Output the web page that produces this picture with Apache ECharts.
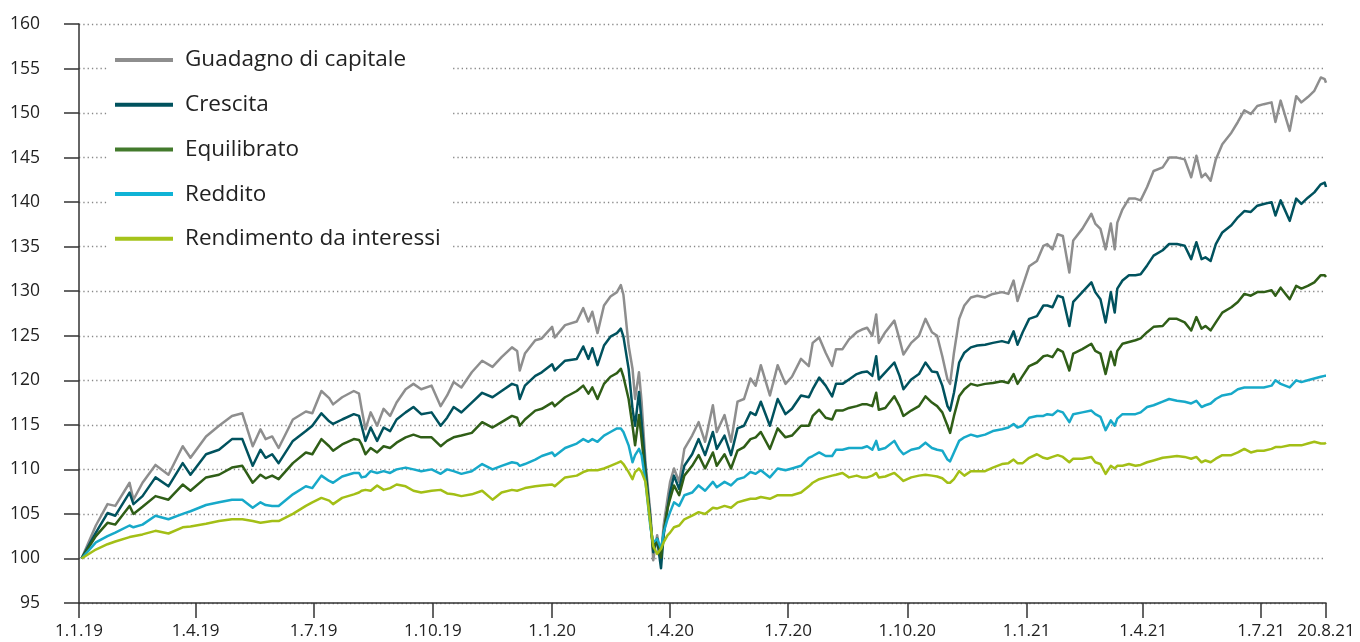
<!DOCTYPE html>
<html>
<head>
<meta charset="utf-8">
<script src="https://cdn.jsdelivr.net/npm/echarts@6/dist/echarts.min.js"></script>
<style>html,body{margin:0;padding:0;background:#fff}#c{width:1360px;height:642px}</style>
</head>
<body>
<div id="c"></div>
<script>
const seriesNames = ['Guadagno di capitale', 'Crescita', 'Equilibrato', 'Reddito', 'Rendimento da interessi'];

const tickDates = ['2019-01-01','2019-04-01','2019-07-01','2019-10-01','2020-01-01','2020-04-01','2020-07-01','2020-10-01','2021-01-01','2021-04-01','2021-07-01','2021-08-20'];
const tickLabels = ['1.1.19','1.4.19','1.7.19','1.10.19','1.1.20','1.4.20','1.7.20','1.10.20','1.1.21','1.4.21','1.7.21','20.8.21'];

const dates = [
'2019-01-03','2019-01-14','2019-01-23','2019-01-29','2019-02-09','2019-02-12','2019-02-19','2019-03-01','2019-03-11','2019-03-22','2019-03-28','2019-04-09','2019-04-19','2019-04-29','2019-05-07','2019-05-15','2019-05-21','2019-05-25','2019-05-30','2019-06-04','2019-06-15','2019-06-25','2019-06-30','2019-07-07','2019-07-13',
'2019-07-16','2019-07-23','2019-08-01','2019-08-05','2019-08-07','2019-08-10','2019-08-14','2019-08-19','2019-08-24','2019-08-29','2019-09-03','2019-09-10','2019-09-16','2019-09-22','2019-09-30','2019-10-07','2019-10-12','2019-10-17','2019-10-23','2019-10-31','2019-11-08','2019-11-16','2019-11-23','2019-12-01','2019-12-05','2019-12-07','2019-12-11','2019-12-19','2019-12-24','2020-01-01','2020-01-03','2020-01-11',
'2020-01-20','2020-01-25','2020-01-29','2020-02-01','2020-02-05','2020-02-10','2020-02-15','2020-02-20','2020-02-23','2020-02-25','2020-02-29','2020-03-03','2020-03-05','2020-03-08','2020-03-10','2020-03-13','2020-03-17','2020-03-19','2020-03-22','2020-03-25','2020-03-27','2020-03-30','2020-04-01','2020-04-04','2020-04-08','2020-04-12','2020-04-18','2020-04-23','2020-04-28','2020-05-04','2020-05-07','2020-05-13','2020-05-18','2020-05-23','2020-05-28','2020-06-02','2020-06-06','2020-06-10','2020-06-17','2020-06-23','2020-06-29','2020-07-04','2020-07-11',
'2020-07-17','2020-07-20','2020-07-25','2020-07-30','2020-08-04','2020-08-07','2020-08-12','2020-08-17','2020-08-23','2020-08-27','2020-08-31','2020-09-04','2020-09-07','2020-09-09','2020-09-14','2020-09-21','2020-09-25','2020-09-28','2020-10-04','2020-10-10','2020-10-15','2020-10-20','2020-10-24','2020-10-28','2020-11-01','2020-11-03','2020-11-06','2020-11-10','2020-11-14','2020-11-19','2020-11-24','2020-11-30','2020-12-06','2020-12-13','2020-12-18','2020-12-22','2020-12-25','2020-12-29','2021-01-03','2021-01-09','2021-01-14',
'2021-01-17','2021-01-21','2021-01-25','2021-01-29','2021-02-03','2021-02-06','2021-02-13','2021-02-20','2021-02-23','2021-02-27','2021-03-03','2021-03-07','2021-03-10','2021-03-12','2021-03-16','2021-03-21','2021-03-26','2021-03-30','2021-04-04','2021-04-09','2021-04-16','2021-04-21','2021-04-27','2021-05-03','2021-05-08','2021-05-12','2021-05-16','2021-05-19','2021-05-23','2021-05-27','2021-06-01','2021-06-08','2021-06-13','2021-06-18','2021-06-23','2021-06-28','2021-07-03','2021-07-09','2021-07-12','2021-07-16','2021-07-23','2021-07-28','2021-08-01','2021-08-06','2021-08-11','2021-08-16','2021-08-19','2021-08-20'
];

const guadagno = [
100,103.7,106.1,105.9,108.5,106.6,108.5,110.5,109.4,112.6,111.3,113.7,114.9,116.0,116.3,112.6,114.5,113.4,113.7,112.4,115.6,116.5,116.3,118.8,118.0,
117.3,118.1,118.8,118.5,116.8,114.5,116.4,114.9,116.8,116.0,117.5,119.0,119.6,119.0,119.4,117.1,118.3,119.8,119.2,120.9,122.2,121.5,122.6,123.7,123.3,121.1,123.0,124.5,124.7,126.0,124.8,126.2,
126.6,128.1,126.6,127.7,125.3,128.4,129.4,129.9,130.7,129.6,123.9,121.3,117.9,120.9,117.6,110.8,104.8,99.8,102.6,100.3,103.7,106.7,108.6,110.1,108.6,112.3,113.8,115.3,113.1,117.2,114.2,116.1,113.1,117.6,117.9,120.2,119.4,121.7,118.3,121.7,119.6,120.4,122.4,
121.6,124.2,124.8,123.1,121.6,123.5,123.5,124.6,125.4,125.7,125.9,125.0,127.4,124.2,125.4,126.7,124.6,122.9,124.2,125.0,126.9,125.4,125.0,122.7,120.1,119.6,123.1,126.9,128.4,129.3,129.5,129.3,129.7,129.9,129.7,131.2,128.9,130.6,132.8,133.4,135.1,
135.3,134.7,136.4,136.2,132.1,135.7,137.0,138.7,137.6,137.0,134.7,137.6,134.7,137.7,139.2,140.4,140.4,140.2,141.7,143.5,143.9,145.0,145.0,144.8,142.8,145.2,142.8,143.2,142.4,144.8,146.5,147.8,149.0,150.3,149.9,150.8,151.0,151.2,149.0,151.4,148.0,151.9,151.2,151.8,152.5,154.0,153.8,153.4
];

const crescita = [
100,102.9,105.1,104.8,107.4,106.1,107.0,109.1,108.1,110.7,109.4,111.7,112.2,113.4,113.4,110.4,112.2,111.3,111.7,110.7,113.2,114.3,114.9,116.3,115.4,
115.1,115.6,116.2,116.0,114.9,113.2,114.7,113.2,114.7,114.3,115.6,116.4,117.0,116.2,116.4,114.9,115.8,117.0,116.4,117.5,118.6,118.1,118.8,119.6,119.4,117.9,119.4,120.5,120.9,121.8,121.1,122.2,
122.4,123.8,122.4,123.6,121.7,123.9,124.9,125.3,125.8,124.9,121.3,116.8,114.9,118.7,115.3,110.1,104.1,100.7,102.2,98.9,102.6,105.6,107.4,109.3,107.8,110.4,111.7,113.4,111.6,114.2,112.3,113.8,111.6,114.6,114.9,116.4,116.1,117.6,114.9,117.9,116.2,116.8,118.3,
118.1,119.0,120.3,119.4,118.2,119.6,119.6,120.1,120.7,120.9,121.0,120.5,122.7,120.1,120.9,122.0,120.5,119.0,120.1,120.7,122.0,121.0,120.9,119.4,117.1,116.6,118.6,122.0,123.1,123.7,123.9,124.0,124.2,124.4,124.2,125.5,124.0,125.4,126.9,127.2,128.4,
128.4,128.2,129.5,129.3,126.1,128.8,129.9,131.0,129.9,129.1,126.5,129.9,127.6,130.3,131.2,131.8,131.8,131.9,132.9,134.0,134.6,135.3,135.3,135.1,133.6,135.5,133.6,133.8,133.4,135.3,136.6,137.4,138.3,139.0,138.9,139.6,139.8,140.0,138.5,140.2,137.9,140.4,139.8,140.5,141.1,142.0,142.2,141.7
];

const equilibrato = [
100,102.5,104.0,103.8,105.9,105.0,105.8,107.0,106.6,108.3,107.6,109.1,109.4,110.2,110.4,108.5,109.4,109.0,109.3,108.9,110.7,111.9,111.7,113.4,112.6,
112.1,112.8,113.4,113.3,112.8,111.7,112.4,111.9,112.6,112.4,113.0,113.6,113.9,113.6,113.6,112.6,113.2,113.6,113.8,114.1,115.3,114.7,115.3,116.0,115.8,114.9,115.6,116.6,116.8,117.5,117.1,118.1,
118.8,119.4,118.5,119.2,117.9,119.6,120.4,120.8,121.3,120.4,117.9,114.9,112.7,116.1,113.4,109.3,103.7,101.1,102.2,100.1,102.9,105.6,106.7,108.2,107.1,109.3,110.4,111.6,110.1,111.9,110.4,111.7,110.1,112.1,112.5,113.4,113.6,114.2,112.3,114.6,113.6,113.8,114.9,
114.9,116.0,116.7,115.8,115.6,116.6,116.6,116.9,117.1,117.3,117.3,117.1,118.6,116.7,116.9,118.2,117.1,116.0,116.6,117.1,118.2,117.5,117.1,116.4,114.9,114.1,116.0,118.2,119.0,119.6,119.4,119.6,119.7,119.9,119.7,120.7,119.6,120.5,121.6,122.0,122.7,
122.8,122.6,123.5,123.2,121.1,123.0,123.5,124.1,123.3,123.0,120.7,123.2,121.7,123.3,124.1,124.3,124.5,124.7,125.4,126.0,126.1,126.9,126.9,126.5,125.6,127.1,125.8,126.1,125.6,126.5,127.6,128.2,128.8,129.7,129.5,129.9,129.9,130.1,129.5,130.4,129.1,130.6,130.3,130.6,131.0,131.8,131.8,131.6
];

const reddito = [
100,101.8,102.5,102.9,103.7,103.5,103.8,104.8,104.4,105.0,105.3,106.0,106.3,106.6,106.6,105.7,106.3,106.0,105.9,105.9,107.2,108.1,107.9,109.3,108.7,
108.5,109.2,109.6,109.6,109.1,109.2,109.8,109.6,109.8,109.6,110.0,110.2,110.0,109.8,110.0,109.5,110.0,109.8,109.5,109.8,110.6,110.0,110.4,110.8,110.7,110.4,110.6,111.1,111.5,111.9,111.5,112.4,
112.9,113.4,113.1,113.4,113.1,113.8,114.2,114.6,114.6,114.2,112.7,110.8,111.6,112.3,111.6,108.6,103.3,101.8,102.2,101.1,102.9,104.4,105.2,106.3,105.9,107.1,107.4,108.2,107.6,108.6,108.0,108.6,108.2,108.9,109.1,109.7,109.5,109.9,109.1,110.1,109.9,110.1,110.4,
111.3,111.5,111.9,111.5,111.5,112.2,112.2,112.4,112.4,112.4,112.6,112.2,113.2,112.2,112.4,113.2,112.2,111.7,112.2,112.4,113.0,112.4,112.2,112.1,111.1,110.9,111.9,113.2,113.6,113.9,113.7,113.9,114.3,114.5,114.7,115.1,114.7,114.9,115.8,116.0,116.0,
116.2,116.1,116.6,116.4,115.3,116.2,116.4,116.6,116.2,115.9,114.4,115.5,114.9,115.7,116.2,116.2,116.2,116.4,117.0,117.2,117.6,117.9,117.7,117.6,117.4,117.7,117.0,117.2,117.4,117.9,118.3,118.5,119.0,119.2,119.2,119.2,119.2,119.4,120.0,119.6,119.2,120.0,119.8,120.0,120.2,120.4,120.5,120.5
];

const rendimento = [
100,101.0,101.6,101.9,102.4,102.5,102.7,103.1,102.8,103.5,103.6,103.9,104.2,104.4,104.4,104.2,104.0,104.1,104.2,104.2,105.0,105.9,106.3,106.8,106.5,
106.1,106.8,107.2,107.4,107.6,107.7,107.6,108.2,107.7,107.9,108.3,108.1,107.6,107.4,107.6,107.7,107.3,107.2,107.0,107.2,107.6,106.6,107.4,107.7,107.6,107.7,107.9,108.1,108.2,108.3,108.1,109.1,
109.3,109.7,109.9,109.9,109.9,110.1,110.4,110.7,110.9,110.6,109.7,108.9,109.7,110.1,109.7,108.6,103.7,101.4,100.5,101.1,101.8,102.6,102.9,103.5,103.7,104.4,104.8,105.2,105.0,105.7,105.6,105.9,105.7,106.3,106.5,106.7,106.7,106.9,106.7,107.1,107.1,107.1,107.4,
108.1,108.5,108.9,109.1,109.3,109.4,109.6,109.1,109.3,109.1,109.1,109.3,109.6,109.1,109.2,109.6,109.1,108.7,109.1,109.3,109.4,109.3,109.2,109.0,108.5,108.5,108.9,109.8,109.3,109.8,109.8,109.8,110.2,110.6,110.7,111.1,110.7,110.7,111.3,111.7,111.3,
111.2,111.4,111.6,111.4,110.8,111.2,111.2,111.4,110.8,110.6,109.5,110.4,110.1,110.4,110.4,110.6,110.4,110.5,110.8,111.0,111.3,111.4,111.5,111.4,111.2,111.4,110.8,111.0,110.8,111.2,111.6,111.6,111.9,112.3,111.9,112.1,112.1,112.3,112.5,112.5,112.7,112.7,112.7,112.9,113.1,112.9,112.9,113.0
];

const lineColors = ['#8e8e8e', '#00525e', '#2f5e17', '#17a9c9', '#a3bf16'];
const legendColors = ['#8e8e8e', '#00525e', '#437a2c', '#10b3d6', '#a5c31a'];

const toTime = s => { const p = s.split('-').map(Number); return Date.UTC(p[0], p[1] - 1, p[2]); };
const tickTimes = tickDates.map(toTime);
const FONT = '"Open Sans", "Noto Sans", sans-serif';

const allValues = [guadagno, crescita, equilibrato, reddito, rendimento];

const chart = echarts.init(document.getElementById('c'), null, { renderer: 'canvas' });

const series = allValues.map((vals, k) => ({
  name: seriesNames[k],
  type: 'line',
  data: dates.map((d, i) => [toTime(d), vals[i]]),
  showSymbol: false,
  symbol: 'none',
  lineStyle: { width: 2.5, color: lineColors[k], join: 'round' },
  itemStyle: { color: lineColors[k] },
  emphasis: { disabled: true },
  animation: false
}));

chart.setOption({
  animation: false,
  backgroundColor: '#fff',
  grid: { left: 79, right: 34, top: 24, bottom: 39, containLabel: false },
  xAxis: {
    type: 'value',
    min: tickTimes[0],
    max: tickTimes[tickTimes.length - 1],
    axisLine: { show: true, onZero: false, lineStyle: { color: '#333', width: 1.5 } },
    axisTick: { show: true, customValues: tickTimes, length: 15, lineStyle: { color: '#333', width: 1.5 } },
    axisLabel: {
      customValues: tickTimes,
      hideOverlap: false,
      showMinLabel: true,
      showMaxLabel: true,
      margin: 20,
      fontSize: 17,
      color: '#222',
      fontFamily: FONT,
      formatter: v => {
        let best = 0, bd = Infinity;
        tickTimes.forEach((t, i) => { const d = Math.abs(t - v); if (d < bd) { bd = d; best = i; } });
        return tickLabels[best];
      }
    },
    splitLine: { show: false }
  },
  yAxis: {
    type: 'value',
    min: 95,
    max: 160,
    interval: 5,
    axisLine: { show: true, lineStyle: { color: '#333', width: 1.5 } },
    axisTick: { show: true, length: 15, lineStyle: { color: '#333', width: 1.5 } },
    axisLabel: { margin: 39, fontSize: 17.5, color: '#222', fontFamily: FONT },
    splitLine: { show: true, lineStyle: { color: '#888', width: 1.3, type: [1.3, 3] } }
  },
  legend: {
    orient: 'vertical',
    left: 108,
    top: 37,
    padding: [10, 10, 10, 7],
    backgroundColor: '#fff',
    icon: 'rect',
    itemWidth: 58,
    itemHeight: 4,
    itemGap: 18.7,
    selectedMode: false,
    itemStyle: { borderWidth: 0 },
    textStyle: { fontSize: 22.5, lineHeight: 26, color: '#222', fontFamily: FONT, padding: [0, 0, 0, 7] },
    data: seriesNames.map((n, k) => ({ name: n, itemStyle: { color: legendColors[k], borderWidth: 0 } }))
  },
  series: series
});
</script>
</body>
</html>
